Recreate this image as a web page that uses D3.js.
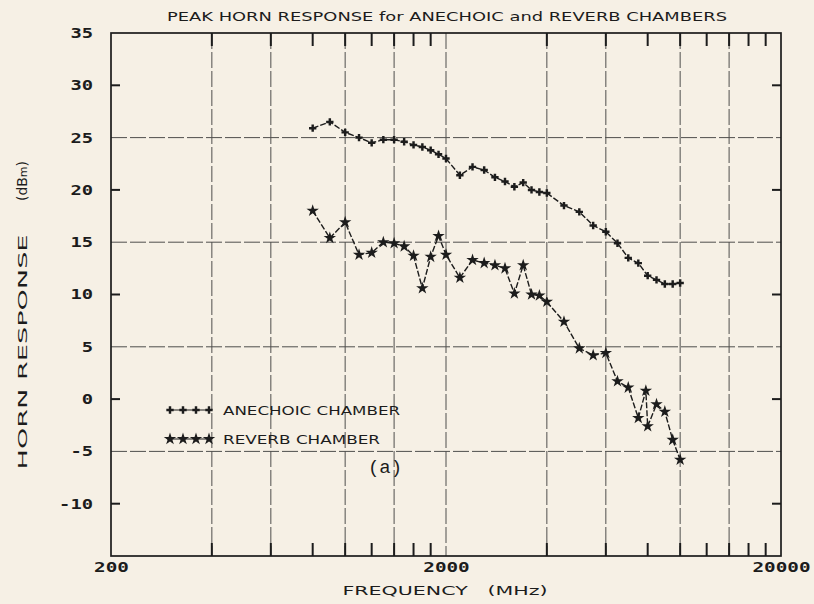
<!DOCTYPE html>
<html>
<head>
<meta charset="utf-8">
<script src="https://cdn.jsdelivr.net/npm/d3@7"></script>
<style>
  html, body { margin: 0; padding: 0; background: #f6f0e5; }
  svg { display: block; }
</style>
</head>
<body>
<svg id="chart" width="814" height="604"></svg>
<script>
// Measurement frequencies (MHz)
const anechoicFreqs = [800, 900, 1000, 1100, 1200, 1300, 1400, 1500, 1600, 1700, 1800, 1900, 2000,
  2200, 2400, 2600, 2800, 3000, 3200, 3400, 3600, 3800, 4000,
  4500, 5000, 5500, 6000, 6500, 7000, 7500, 8000, 8500, 9000, 9500, 10000];
// Peak horn response in the anechoic chamber (dBm)
const anechoicValues = [25.9, 26.5, 25.5, 25.0, 24.5, 24.8, 24.8, 24.6, 24.3, 24.1, 23.8, 23.4, 23.0,
  21.4, 22.2, 21.9, 21.2, 20.8, 20.3, 20.7, 20.0, 19.8, 19.7,
  18.5, 17.9, 16.6, 16.0, 14.9, 13.5, 13.0, 11.8, 11.4, 11.0, 11.0, 11.1];

const reverbFreqs = [800, 900, 1000, 1100, 1200, 1300, 1400, 1500, 1600, 1700, 1800, 1900, 2000,
  2200, 2400, 2600, 2800, 3000, 3200, 3400, 3600, 3800, 4000,
  4500, 5000, 5500, 6000, 6500, 7000, 7500, 7900, 8000, 8500, 9000, 9500, 10000];
// Peak horn response in the reverberation chamber (dBm)
const reverbValues = [18.0, 15.4, 16.9, 13.8, 14.0, 15.0, 14.9, 14.6, 13.7, 10.6, 13.6, 15.6, 13.8,
  11.6, 13.3, 13.0, 12.8, 12.5, 10.1, 12.8, 10.0, 9.9, 9.3,
  7.4, 4.85, 4.2, 4.4, 1.7, 1.1, -1.8, 0.8, -2.6, -0.5, -1.2, -3.9, -5.8];

const xLabelValues = [200, 2000, 20000];
const xMinorTicks = [400, 600, 800, 1000, 1200, 1400, 1600, 1800, 4000, 6000, 8000, 10000, 12000, 14000, 16000, 18000];
const xGridValues = [400, 600, 1000, 1400, 2000, 4000, 6000, 10000, 14000];
const yLabelValues = [35, 30, 25, 20, 15, 10, 5, 0, -5, -10];
const yMinorTicks = [30, 20, 10, 0, -10];
const yGridValues = [25, 15, 5, -5];

const titleText = "PEAK HORN RESPONSE for ANECHOIC and REVERB CHAMBERS";
const xTitle = "FREQUENCY   (MHz)";
const legendLabels = ["ANECHOIC CHAMBER", "REVERB CHAMBER"];

const ink = "#1c1c1c";
const plot = { left: 111, right: 781, top: 33, bottom: 556 };

const svg = d3.select("#chart");
svg.append("rect").attr("width", 814).attr("height", 604).attr("fill", "#f6f0e5");

const x = d3.scaleLog().domain([200, 20000]).range([plot.left, plot.right]);
const y = d3.scaleLinear().domain([-15, 35]).range([plot.bottom, plot.top]);

// Grid lines
const grid = svg.append("g").attr("stroke", "#333").attr("stroke-width", 1)
  .attr("stroke-dasharray", "16,3").attr("opacity", 0.85);
grid.selectAll("line.gx").data(xGridValues).join("line")
  .attr("x1", d => x(d)).attr("x2", d => x(d))
  .attr("y1", plot.top).attr("y2", plot.bottom);
grid.selectAll("line.gy").data(yGridValues).join("line")
  .attr("x1", plot.left).attr("x2", plot.right)
  .attr("y1", d => y(d)).attr("y2", d => y(d));

// Inward tick marks on all four sides
const tickLen = { x: 13, y: 9 };
const ticks = svg.append("g");
[[plot.bottom, -1], [plot.top, 1]].forEach(([edge, dir]) => {
  xMinorTicks.forEach(v => {
    ticks.append("line")
      .attr("x1", x(v)).attr("x2", x(v))
      .attr("y1", edge).attr("y2", edge + dir * tickLen.x)
      .attr("stroke", ink).attr("stroke-width", 2);
  });
});
[[plot.left, 1], [plot.right, -1]].forEach(([edge, dir]) => {
  yMinorTicks.forEach(v => {
    ticks.append("line")
      .attr("y1", y(v)).attr("y2", y(v))
      .attr("x1", edge).attr("x2", edge + dir * tickLen.y)
      .attr("stroke", ink).attr("stroke-width", 2);
  });
});

// Frame
svg.append("rect")
  .attr("x", plot.left).attr("y", plot.top)
  .attr("width", plot.right - plot.left).attr("height", plot.bottom - plot.top)
  .attr("fill", "none").attr("stroke", ink).attr("stroke-width", 1.7);

// Tick labels
const tickFont = "'DejaVu Sans Mono', monospace";
const xl = svg.append("g").attr("transform", `translate(0,${plot.bottom})`)
  .call(d3.axisBottom(x).tickValues(xLabelValues).tickSize(0).tickPadding(5).tickFormat(d3.format("d")));
xl.select(".domain").remove();
xl.selectAll("text")
  .attr("font-family", tickFont).attr("font-weight", "bold").attr("font-size", 14)
  .attr("fill", ink).attr("dy", "0.75em")
  .attr("textLength", d => String(d).length * 11.6).attr("lengthAdjust", "spacingAndGlyphs");

const yl = svg.append("g").attr("transform", `translate(${plot.left},0)`)
  .call(d3.axisLeft(y).tickValues(yLabelValues).tickSize(0).tickPadding(18).tickFormat(d3.format("d")));
yl.select(".domain").remove();
yl.selectAll("text")
  .attr("font-family", tickFont).attr("font-weight", "bold").attr("font-size", 14)
  .attr("fill", ink)
  .text(d => String(d))
  .attr("textLength", d => String(d).length * 11.3).attr("lengthAdjust", "spacingAndGlyphs");

// Titles
const labelFont = "'DejaVu Sans', sans-serif";
svg.append("text").attr("x", 447).attr("y", 21).attr("text-anchor", "middle")
  .attr("font-family", labelFont).attr("font-size", 11.5).attr("fill", ink)
  .attr("textLength", 560).attr("lengthAdjust", "spacingAndGlyphs")
  .text(titleText);

svg.append("text").attr("x", 445).attr("y", 595).attr("text-anchor", "middle")
  .attr("font-family", labelFont).attr("font-size", 13).attr("fill", ink)
  .attr("textLength", 205).attr("lengthAdjust", "spacingAndGlyphs")
  .attr("xml:space", "preserve")
  .text(xTitle);

// Vertical axis title, two pieces so the unit sits apart from the words
svg.append("text")
  .attr("transform", "translate(27,352) rotate(-90)")
  .attr("text-anchor", "middle")
  .attr("font-family", labelFont).attr("font-size", 13).attr("fill", ink)
  .attr("textLength", 235).attr("lengthAdjust", "spacingAndGlyphs")
  .text("HORN RESPONSE");
const unit = svg.append("text")
  .attr("transform", "translate(27,181) rotate(-90)")
  .attr("text-anchor", "middle")
  .attr("font-family", labelFont).attr("font-size", 14).attr("fill", ink);
unit.append("tspan").text("(dB");
unit.append("tspan").attr("font-size", 11).text("m");
unit.append("tspan").text(")");

// Series
const anechoic = anechoicFreqs.map((f, i) => ({ f, v: anechoicValues[i] }));
const reverb = reverbFreqs.map((f, i) => ({ f, v: reverbValues[i] }));

const line = d3.line().x(d => x(d.f)).y(d => y(d.v));
const crossSym = d3.symbol().type(d3.symbolCross).size(30);
const starSym = d3.symbol().type(d3.symbolStar).size(48);

function drawSeries(data, sym) {
  const g = svg.append("g");
  g.append("path").datum(data)
    .attr("d", line).attr("fill", "none")
    .attr("stroke", ink).attr("stroke-width", 1.4)
    .attr("stroke-dasharray", "6,2");
  g.selectAll("path.m").data(data).join("path")
    .attr("class", "m")
    .attr("transform", d => `translate(${x(d.f)},${y(d.v)})`)
    .attr("d", sym).attr("fill", ink);
}
drawSeries(anechoic, crossSym);
drawSeries(reverb, starSym);

// Legend
const legend = svg.append("g");
const legendRows = [
  { label: legendLabels[0], sym: crossSym, y: 410, len: 177 },
  { label: legendLabels[1], sym: starSym, y: 439, len: 157 }
];
const legendMarkX = [170, 183, 196, 209];
legendRows.forEach(row => {
  legend.append("line").attr("x1", 167).attr("x2", 212)
    .attr("y1", row.y).attr("y2", row.y)
    .attr("stroke", ink).attr("stroke-width", 1.2);
  legend.selectAll(null).data(legendMarkX).join("path")
    .attr("transform", d => `translate(${d},${row.y})`)
    .attr("d", row.sym).attr("fill", ink);
  legend.append("text").attr("x", 223).attr("y", row.y + 5)
    .attr("font-family", labelFont).attr("font-size", 12).attr("fill", ink)
    .attr("textLength", row.len).attr("lengthAdjust", "spacingAndGlyphs")
    .text(row.label);
});

// Panel tag
svg.append("text").attr("x", 385).attr("y", 473).attr("text-anchor", "middle")
  .attr("font-family", "'Liberation Mono', 'DejaVu Sans Mono', monospace")
  .attr("font-size", 19).attr("fill", ink)
  .text("(a)");
</script>
</body>
</html>
